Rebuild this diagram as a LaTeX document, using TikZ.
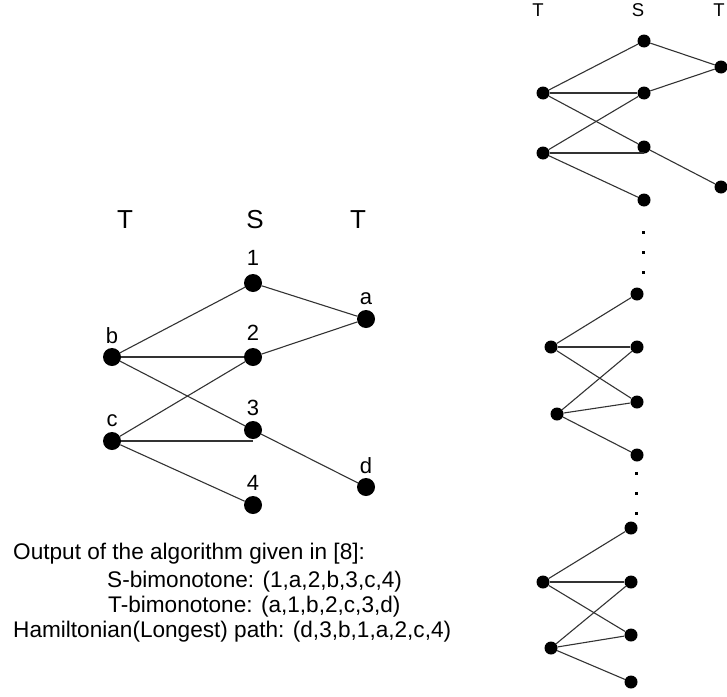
\documentclass[tikz,border=0pt]{standalone}
\usepackage{fontspec}
\setmainfont{Liberation Sans}
\begin{document}
\begin{tikzpicture}[x=1pt,y=-1pt,
  big/.style={circle,fill=black,inner sep=0pt,minimum size=18pt},
  small/.style={circle,fill=black,inner sep=0pt,minimum size=13pt},
  dotmark/.style={rectangle,fill=black,inner sep=0pt,minimum size=3pt},
  edge/.style={draw=black!80,line width=1.1pt},
  lbl/.style={inner sep=0pt,anchor=base,font=\fontsize{22}{26}\selectfont},
  head/.style={inner sep=0pt,font=\fontsize{26}{30}\selectfont},
  shead/.style={inner sep=0pt,font=\fontsize{18.5}{22}\selectfont},
  txt/.style={inner sep=0pt,anchor=base west,font=\fontsize{22.6}{26}\selectfont}]
\useasboundingbox (0,0) rectangle (727,696);

% ---------- left graph ----------
\node[head] (hT1) at (125,220) {T};
\node[head] (hS) at (255,220) {S};
\node[head] (hT2) at (358,220) {T};

\node[big] (b) at (112,357) {};
\node[big] (c) at (112,441) {};
\node[big] (n1) at (253,283) {};
\node[big] (n2) at (253,357) {};
\node[big] (n3) at (253,430) {};
\node[big] (n4) at (253,505) {};
\node[big] (a) at (366,319) {};
\node[big] (d) at (366,487) {};

\node[lbl] (l1) at (253,265) {1};
\node[lbl] (l2) at (253,340) {2};
\node[lbl] (l3) at (253,415) {3};
\node[lbl] (l4) at (253,490) {4};
\node[lbl] (lb) at (112,343) {b};
\node[lbl] (lc) at (112,426) {c};
\node[lbl] (la) at (366,304) {a};
\node[lbl] (ld) at (366,473) {d};

\draw[edge] (b) -- (n1);
\draw[edge] (b) -- (n2);
\draw[edge] (b) -- (n3);
\draw[edge] (c) -- (n2);
\draw[edge] (c) -- (c -| n3);
\draw[edge] (c) -- (n4);
\draw[edge] (n1) -- (a);
\draw[edge] (n2) -- (a);
\draw[edge] (n3) -- (d);

% ---------- text ----------
\node[txt] (t1) at (13,559) {Output of the algorithm given in [8]:};
\node[txt] (t2) at (107,587) {S-bimonotone: (1,a,2,b,3,c,4)};
\node[txt] (t3) at (108,612) {T-bimonotone: (a,1,b,2,c,3,d)};
\node[txt] (t4) at (13,637) {Hamiltonian(Longest) path: (d,3,b,1,a,2,c,4)};

% ---------- right graph, top ----------
\node[shead] (rT1) at (538,10) {T};
\node[shead] (rS) at (638,10) {S};
\node[shead] (rT2) at (719,10) {T};

\node[small] (rs1) at (644,41) {};
\node[small] (rl1) at (543,93) {};
\node[small] (rs2) at (644,93) {};
\node[small] (ra) at (721,67) {};
\node[small] (rl2) at (543,153) {};
\node[small] (rs3) at (644,147) {};
\node[small] (rs4) at (644,200) {};
\node[small] (rd) at (721,187) {};

\draw[edge] (rl1) -- (rs1);
\draw[edge] (rl1) -- (rs2);
\draw[edge] (rl1) -- (rs3);
\draw[edge] (rl2) -- (rs2);
\draw[edge] (rl2) -- (rl2 -| rs3);
\draw[edge] (rl2) -- (rs4);
\draw[edge] (rs1) -- (ra);
\draw[edge] (rs2) -- (ra);
\draw[edge] (rs3) -- (rd);

% dots
\node[dotmark] (da1) at (643,232) {};
\node[dotmark] (da2) at (643,252) {};
\node[dotmark] (da3) at (643,272) {};

% ---------- right graph, middle ----------
\node[small] (ms1) at (637,294) {};
\node[small] (ml1) at (551,347) {};
\node[small] (ms2) at (637,347) {};
\node[small] (ms3) at (637,402) {};
\node[small] (ml2) at (557,414) {};
\node[small] (ms4) at (637,455) {};

\draw[edge] (ml1) -- (ms1);
\draw[edge] (ml1) -- (ms2);
\draw[edge] (ml1) -- (ms3);
\draw[edge] (ml2) -- (ms2);
\draw[edge] (ml2) -- (ms3);
\draw[edge] (ml2) -- (ms4);

% dots
\node[dotmark] (db1) at (636,473) {};
\node[dotmark] (db2) at (636,493) {};
\node[dotmark] (db3) at (636,513) {};

% ---------- right graph, bottom ----------
\node[small] (bs1) at (631,528) {};
\node[small] (bl1) at (543,582) {};
\node[small] (bs2) at (631,582) {};
\node[small] (bs3) at (631,635) {};
\node[small] (bl2) at (551,648) {};
\node[small] (bs4) at (631,682) {};

\draw[edge] (bl1) -- (bs1);
\draw[edge] (bl1) -- (bs2);
\draw[edge] (bl1) -- (bs3);
\draw[edge] (bl2) -- (bs2);
\draw[edge] (bl2) -- (bs3);
\draw[edge] (bl2) -- (bs4);
\end{tikzpicture}
\end{document}
